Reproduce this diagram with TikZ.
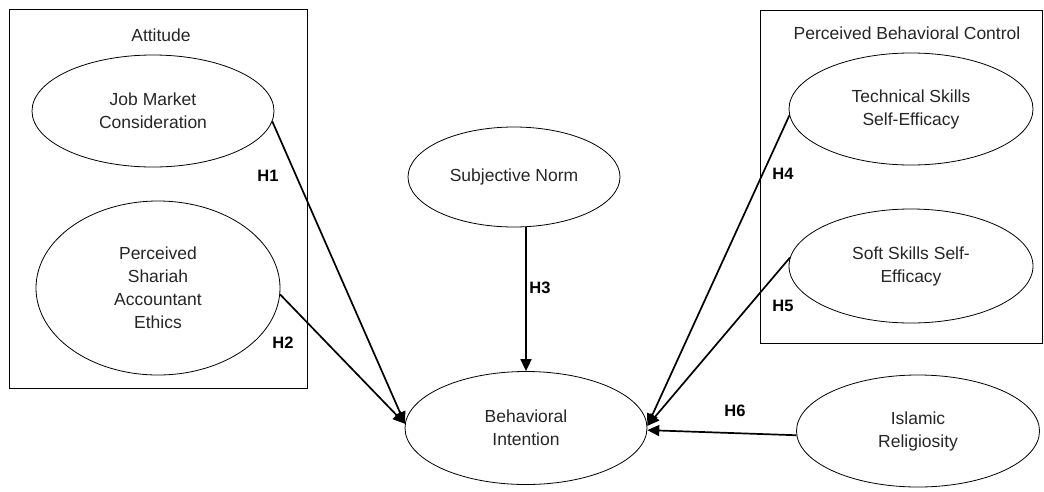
\documentclass[tikz,border=0pt]{standalone}
\usepackage{fontspec}
\setmainfont{Liberation Sans}
\usetikzlibrary{shapes.geometric,arrows.meta}
\begin{document}
\begin{tikzpicture}[x=1pt,y=-1pt,
  every node/.style={font=\fontsize{17.5}{23}\selectfont, text=black!85},
  construct/.style={draw, ellipse, line width=0.8pt, inner sep=0pt, align=center},
  groupbox/.style={draw, rectangle, line width=0.8pt, inner sep=0pt},
  hyp/.style={font=\fontsize{16.5}{20}\selectfont\bfseries, text=black},
  path/.style={line width=1.7pt, -{Triangle[length=12pt,width=11pt]}}
]
\useasboundingbox (0,0) rectangle (1044,491);
% group boxes
\node[groupbox, minimum width=298pt, minimum height=379pt] (attbox) at (158,198.5) {};
\node[groupbox, minimum width=282pt, minimum height=333pt] (pbcbox) at (901,176.5) {};
\node (atttitle) at (161,35) {Attitude};
\node (pbctitle) at (907,33) {Perceived Behavioral Control};
% constructs
\node[construct, minimum width=242pt, minimum height=112pt] (JM) at (153,111) {Job Market\\Consideration};
\node[construct, minimum width=244pt, minimum height=174pt] (PS) at (158,288) {Perceived\\Shariah\\Accountant\\Ethics};
\node[construct, minimum width=212pt, minimum height=100pt] (SN) at (514,177) {Subjective Norm};
\node[construct, minimum width=242pt, minimum height=113pt] (BI) at (526,428) {Behavioral\\Intention};
\node[construct, minimum width=244pt, minimum height=112pt] (TS) at (911,109) {Technical Skills\\Self-Efficacy};
\node[construct, minimum width=244pt, minimum height=114pt] (SS) at (911,266) {Soft Skills Self-\\Efficacy};
\node[construct, minimum width=243pt, minimum height=112pt] (IR) at (918,431) {Islamic\\Religiosity};
% paths
\draw[path] (JM.-5) -- (BI.178);
\draw[path] (PS.-3) -- (BI.178);
\draw[path] (BI.north |- SN.south) -- (BI.north);
\draw[path] (TS.183) -- (BI.1);
\draw[path] (SS.176) -- (BI.1);
\draw[path] (IR.182) -- (BI.-1);
% labels
\node[hyp] (h1) at (268,176) {H1};
\node[hyp] (h2) at (283,343) {H2};
\node[hyp] (h3) at (540,288) {H3};
\node[hyp] (h4) at (783,174) {H4};
\node[hyp] (h5) at (783,306) {H5};
\node[hyp] (h6) at (735,411) {H6};
\end{tikzpicture}
\end{document}
